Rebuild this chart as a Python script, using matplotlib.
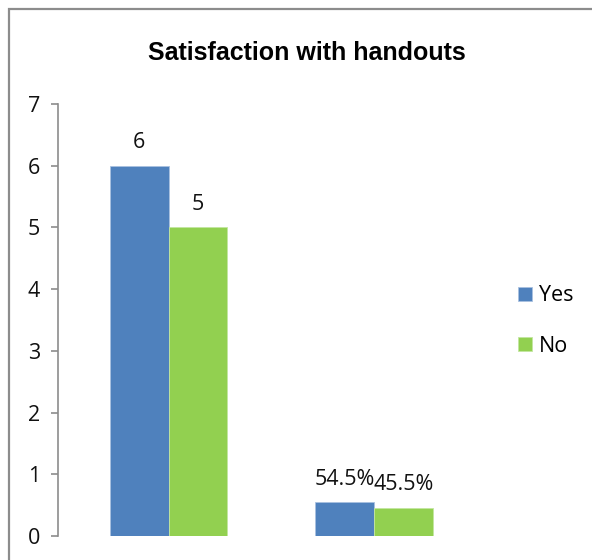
import matplotlib
matplotlib.use("Agg")
import matplotlib.pyplot as plt
from matplotlib.patches import Rectangle
import numpy as np

title = "Satisfaction with handouts"
series_names = ["Yes", "No"]
yes_values = [6, 0.545]
no_values = [5, 0.455]
yes_labels = ["6", "54.5%"]
no_labels = ["5", "45.5%"]
y_ticks = [0, 1, 2, 3, 4, 5, 6, 7]

colors = ["#4F81BD", "#92D050"]

plt.rcParams['font.family'] = ['Open Sans', 'DejaVu Sans']

W, H = 592, 560
fig = plt.figure(figsize=(W / 100, H / 100), dpi=100)

# outer chart frame (runs off the right and bottom edges)
fig.patches.append(Rectangle((9 / W, -0.1), 1.2, 1 - 9 / H + 0.1,
                             transform=fig.transFigure, fill=False,
                             edgecolor="#8c8c8c", linewidth=1.6))

ax = fig.add_axes([58 / W, (H - 536) / H, (480 - 58) / W, (536 - 104) / H])

x = np.arange(len(yes_values))
w = 0.285
b1 = ax.bar(x - w / 2, yes_values, w, color=colors[0], label=series_names[0],
            edgecolor="#a9c1e0", linewidth=0.6)
b2 = ax.bar(x + w / 2, no_values, w, color=colors[1], label=series_names[1],
            edgecolor="#c3e6a0", linewidth=0.6)

for bars, labels in ((b1, yes_labels), (b2, no_labels)):
    for bar, lab in zip(bars, labels):
        ax.annotate(lab, (bar.get_x() + bar.get_width() / 2, bar.get_height()),
                    xytext=(0, 9), textcoords="offset points",
                    ha="center", va="bottom", fontsize=15.5, color="#111111")

ax.set_ylim(0, 7)
ax.set_xlim(-0.538, 1.516)
ax.set_yticks(y_ticks)
ax.set_xticks([])
ax.tick_params(axis="y", labelsize=15.5, length=5, width=1.2, color="#8c8c8c",
               pad=8, labelcolor="#111111")
for s in ("top", "right", "bottom"):
    ax.spines[s].set_visible(False)
ax.spines["left"].set_color("#8c8c8c")
ax.spines["left"].set_linewidth(1.2)

fig.text(307 / W, 1 - 53 / H, title, ha="center", va="center",
         fontsize=18, fontweight="bold", family=["Liberation Sans", "DejaVu Sans"])

fig.legend(handles=[b1, b2], labels=series_names, loc="center left",
           bbox_to_anchor=(499 / W, 1 - 321 / H), frameon=False,
           fontsize=15.5, handlelength=0.65, handleheight=0.65,
           handletextpad=0.3, labelspacing=1.35)

fig.savefig("out.png", dpi=100)
